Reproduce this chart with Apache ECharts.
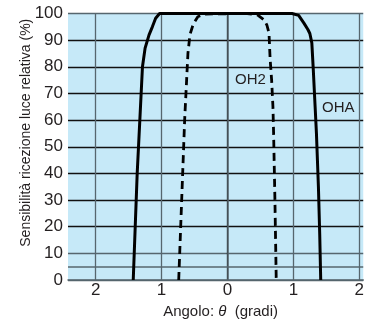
<!DOCTYPE html>
<html>
<head>
<meta charset="utf-8">
<script src="https://cdn.jsdelivr.net/npm/echarts@6/dist/echarts.min.js"></script>
<style>html,body{margin:0;padding:0;background:#fff}#c{width:367px;height:324px}</style>
</head>
<body>
<div id="c"></div>
<script>
// OHA (solid) curve
var ohaX = [-1.43, -1.40, -1.37, -1.33, -1.29, -1.25, -1.19, -1.14, -1.09, -1.03, 0.98, 1.08, 1.16, 1.22, 1.25, 1.28, 1.30, 1.33, 1.35, 1.38, 1.40, 1.415];
var ohaY = [0, 20, 40, 60, 80, 87, 92, 95, 98.2, 100, 100, 99.3, 96.4, 94, 92.5, 89, 80, 65, 55, 35, 17, 0];
// OH2 (dashed) curve
var oh2X = [-0.74, -0.71, -0.68, -0.65, -0.62, -0.60, -0.57, -0.52, -0.45, -0.34, 0.30, 0.46, 0.56, 0.60, 0.63, 0.647, 0.67, 0.69, 0.70, 0.72, 0.74];
var oh2Y = [0, 20, 40, 60, 75, 85, 92, 96, 98.8, 99.8, 100, 99.4, 97.5, 95.5, 92.7, 83, 75, 65, 55, 30, 0];
// axis ticks
var xTicks = [-2, -1, 0, 1, 2];
var seriesNames = ['OHA', 'OH2'];

function pairs(xs, ys) { return xs.map(function (x, i) { return [x, ys[i]]; }); }

var gray = '#56666e';
var black = '#111';
var font = 'Liberation Sans, Arial, sans-serif';

var chart = echarts.init(document.getElementById('c'), null, { renderer: 'canvas' });
chart.setOption({
  animation: false,
  grid: { left: 68, right: 0, top: 13.5, bottom: 40.7, show: true, backgroundColor: '#c6e9f8', borderWidth: 0 },
  xAxis: {
    type: 'value', min: -2.42, max: 2.06,
    name: 'Angolo: {i|θ}  (gradi)', nameLocation: 'middle', nameGap: 24, nameMoveOverlap: false,
    nameTextStyle: { fontFamily: font, fontSize: 15, color: '#231f20', padding: [0, 0, 0, 10],
      rich: { i: { fontStyle: 'italic', fontFamily: font, fontSize: 15, color: '#231f20' } } },
    axisLine: { show: true, lineStyle: { color: gray, width: 1.5 } },
    axisTick: { show: false, customValues: xTicks },
    axisLabel: { customValues: xTicks, fontFamily: font, fontSize: 17, color: '#231f20', margin: 2,
      formatter: function (v) { return String(Math.abs(v)); } },
    splitLine: { show: true, lineStyle: { color: [gray, gray, black, gray, gray], width: 1.3 } }
  },
  yAxis: {
    type: 'value', min: 0, max: 100, interval: 10,
    name: 'Sensibilità ricezione luce relativa (%)', nameLocation: 'middle', nameGap: 35, nameMoveOverlap: false,
    nameTextStyle: { fontFamily: font, fontSize: 14, color: '#231f20', padding: [0, 0, 0, 28] },
    axisLine: { show: true, lineStyle: { color: gray, width: 1.5 } },
    axisTick: { show: false },
    axisLabel: { fontFamily: font, fontSize: 17, color: '#231f20', margin: 5 },
    splitLine: { show: true, lineStyle: { color: [gray, gray, black, black, black, black, black, black, black, black, gray], width: 1.3 } }
  },
  series: [
    {
      name: seriesNames[0], type: 'line', data: pairs(ohaX, ohaY), showSymbol: false, symbol: 'none',
      lineStyle: { color: '#000', width: 3 }, z: 5,
      markLine: { silent: true, symbol: 'none', label: { show: false },
        lineStyle: { color: gray, width: 1.5, type: 'solid' }, data: [{ yAxis: 5 }], z: 1 }
    },
    {
      name: seriesNames[1], type: 'line', data: pairs(oh2X, oh2Y), showSymbol: false, symbol: 'none',
      lineStyle: { color: '#000', width: 2.8, type: [8, 5] }, z: 5
    }
  ],
  graphic: [
    { type: 'text', left: 235, top: 72, style: { text: 'OH2', font: '15px Liberation Sans, Arial, sans-serif', fill: '#231f20' } },
    { type: 'text', left: 322, top: 100, style: { text: 'OHA', font: '15px Liberation Sans, Arial, sans-serif', fill: '#231f20' } }
  ]
});
</script>
</body>
</html>
